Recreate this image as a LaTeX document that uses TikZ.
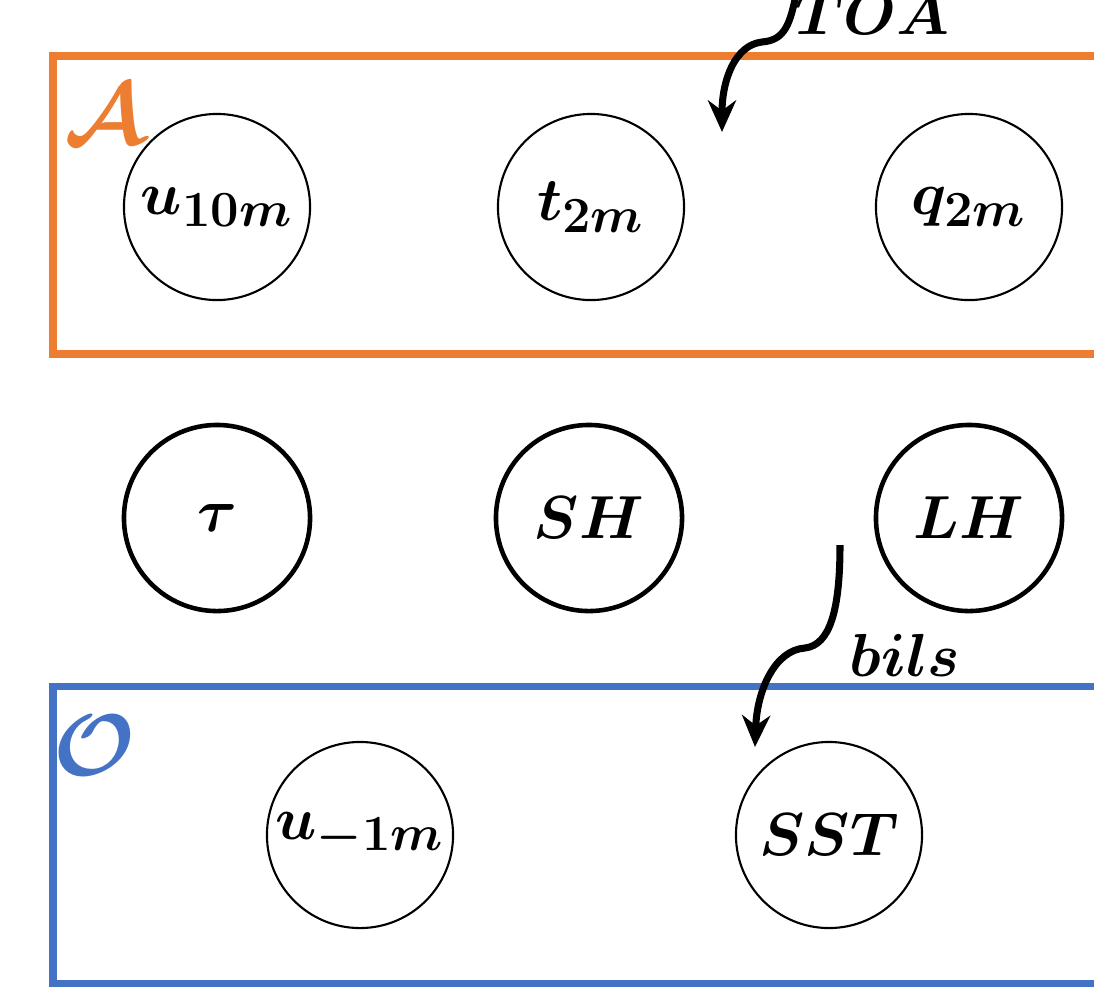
\documentclass[tikz,border=0pt]{standalone}
\usepackage{amsmath,bm}
\usetikzlibrary{arrows.meta}
\DeclareMathSizes{17}{17}{14}{11}
\definecolor{aorange}{HTML}{ED7D31}
\definecolor{oblue}{HTML}{4472C4}
\tikzset{
  thinvar/.style={circle,draw=black,line width=0.6pt,minimum size=1.86cm,inner sep=0pt,font=\fontsize{17}{20}\selectfont},
  thickvar/.style={circle,draw=black,line width=1.3pt,minimum size=1.86cm,inner sep=0pt,font=\fontsize{17}{20}\selectfont},
  groupbox/.style={line width=2pt},
  flux/.style={line width=2pt,-{Stealth[length=9pt,width=8pt]}},
  lbl/.style={font=\fontsize{17}{20}\selectfont,inner sep=0pt}
}
\begin{document}
\begin{tikzpicture}[x=0.01cm,y=-0.01cm]
\useasboundingbox (0,0) rectangle (1094,987);
\clip (0,0) rectangle (1094,987);
% group boxes
\draw[groupbox,aorange] (1120,56) -- (53,56) -- (53,354) -- (1120,354);
\draw[groupbox,oblue] (1120,686) -- (53,686) -- (53,983) -- (1120,983);
\node[lbl,text=aorange] (A) at (105,114) {\fontsize{26}{30}\selectfont$\boldsymbol{\mathcal{A}}$};
\node[lbl,text=oblue] (O) at (95,745) {\fontsize{26}{30}\selectfont$\boldsymbol{\mathcal{O}}$};
% atmosphere
\node[thinvar] (u10) at (217,207) {$\boldsymbol{u_{10m}}$};
\node[thinvar] (t2) at (591,207) {$\boldsymbol{t_{2m}}$};
\node[thinvar] (q2) at (969,207) {$\boldsymbol{q_{2m}}$};
% fluxes
\node[thickvar] (tau) at (217,518) {$\boldsymbol{\tau}$};
\node[thickvar] (SH) at (589,518) {$\boldsymbol{SH}$};
\node[thickvar] (LH) at (969,518) {$\boldsymbol{LH}$};
% ocean
\node[thinvar] (u1) at (360,835) {$\boldsymbol{u_{-1m}}$};
\node[thinvar] (SST) at (829,835) {$\boldsymbol{SST}$};
% TOA arrow
\coordinate (toaS) at (797,-10);
\coordinate (toaE) at (722,132);
\node[lbl,anchor=base] (TOA) at (872,34) {$\boldsymbol{TOA}$};
\draw[flux] (toaS) .. controls (790,25) and (785,40) .. (762,42)
  .. controls (735,45) and (722,80) .. (toaE);
% bils arrow
\coordinate (bilS) at (840,545);
\coordinate (bilE) at (755,747);
\node[lbl] (bils) at (905,655) {$\boldsymbol{bils}$};
\draw[flux] (bilS) .. controls (840,610) and (830,645) .. (805,648)
  .. controls (775,650) and (757,690) .. (bilE);
\end{tikzpicture}
\end{document}
